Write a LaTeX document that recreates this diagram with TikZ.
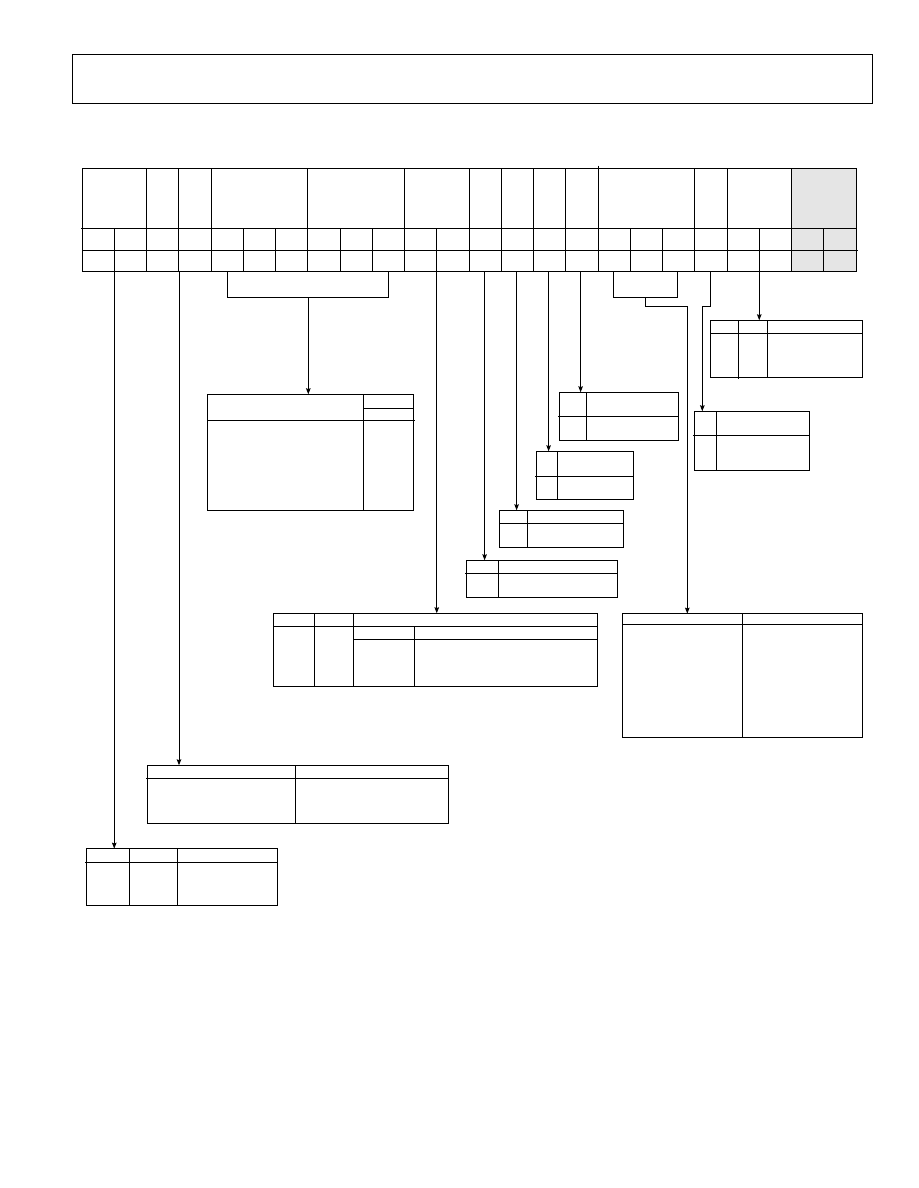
\documentclass[tikz,border=0pt]{standalone}
\usetikzlibrary{arrows.meta}
\definecolor{regbg}{RGB}{229,229,229}
\begin{document}
\begin{tikzpicture}[x=1pt,y=-1pt,line width=1pt,
  tbl/.style={draw,rectangle,inner sep=0pt,outer sep=0pt,anchor=north west},
  arr/.style={-{Stealth[length=6pt,width=4.5pt,inset=0.8pt]}}]
\useasboundingbox (0,0) rectangle (918,1188);
% title frame
\node[tbl,minimum width=800pt,minimum height=49.7pt] (frame) at (72.3,54.3) {};
% register grid
\fill[fill=regbg] (791.5,168.3) rectangle (856,271);
\draw (82,168.3) rectangle (856,271);
\draw (81,228.3) -- (856,228.3);
\draw (82,250) -- (858,250);
\foreach \i in {1,...,23} \draw ({82+\i*32.25},228.3) -- ({82+\i*32.25},271);
\foreach \i in {2,3,4,7,10,12,13,14,15,19,20,22} \draw ({82+\i*32.25},168.3) -- ({82+\i*32.25},228.3);
\draw (598,165.5) -- (598,228.3);
% tables
\node[tbl,minimum width=206pt,minimum height=115.7pt] (A) at (207.3,394.3) {};
\draw (363.3,394.3) -- (363.3,510);
\draw (207.3,420.3) -- (415,420.3);
\draw (363.3,408.3) -- (413.3,408.3);
\node[tbl,minimum width=119pt,minimum height=48pt] (B) at (559.3,392.3) {};
\draw (586.3,392.3) -- (586.3,440.3);
\draw (558,416.3) -- (678.3,416.3);
\node[tbl,minimum width=97pt,minimum height=48pt] (C) at (536.3,451.3) {};
\draw (557.3,451.3) -- (557.3,499.3);
\draw (535,476.3) -- (633.3,476.3);
\node[tbl,minimum width=124pt,minimum height=37pt] (D) at (499.3,510.3) {};
\draw (527.3,510.3) -- (527.3,547.3);
\draw (499.3,523.3) -- (623.3,523.3);
\node[tbl,minimum width=151pt,minimum height=37pt] (E) at (466.3,560.3) {};
\draw (498.3,560.3) -- (498.3,597.3);
\draw (465,573.3) -- (617.3,573.3);
\node[tbl,minimum width=152.4pt,minimum height=57pt] (F) at (710.3,320.3) {};
\draw (738.3,320.3) -- (738.3,379);
\draw (767.3,320.3) -- (767.3,377.3);
\draw (710.3,333.3) -- (862.7,333.3);
\node[tbl,minimum width=115pt,minimum height=59pt] (G) at (694.3,411.3) {};
\draw (716.3,411.3) -- (716.3,470.3);
\draw (693,435.3) -- (809.3,435.3);
\node[tbl,minimum width=324pt,minimum height=72.7pt] (H) at (273.3,613.3) {};
\draw (314.3,613.3) -- (314.3,686);
\draw (353.3,613.3) -- (353.3,686);
\draw (414.3,626.7) -- (414.3,686);
\draw (273.3,626.7) -- (597.3,626.7);
\draw (353.3,639) -- (597.3,639);
\node[tbl,minimum width=240pt,minimum height=123.6pt] (I) at (622.3,613.7) {};
\draw (742.3,613.7) -- (742.3,737.3);
\draw (622.3,624.3) -- (862.3,624.3);
\node[tbl,minimum width=301pt,minimum height=58pt] (J) at (147.3,765.3) {};
\draw (295.3,765.3) -- (295.3,823.3);
\draw (146,778.3) -- (448.3,778.3);
\node[tbl,minimum width=191pt,minimum height=56.6pt] (K) at (86.3,848.7) {};
\draw (129.3,848.7) -- (129.3,905.3);
\draw (177.3,848.7) -- (177.3,905.3);
\draw (85,862) -- (277.3,862);
% connectors
\coordinate (s1) at (114.25,271);
\coordinate (s3) at (179,271);
\coordinate (bA) at (308.3,297);
\coordinate (s11) at (436.75,271);
\coordinate (s12) at (484.6,271);
\coordinate (s13) at (516.6,271);
\coordinate (s14) at (548.6,271);
\coordinate (s15) at (580.6,271);
\coordinate (bI) at (645,297);
\coordinate (kI) at (687.3,306);
\coordinate (s20) at (710.3,271);
\coordinate (kG) at (702.3,306);
\coordinate (s21) at (759.25,271);
\draw[arr] (s1) -- (s1 |- K.north);
\draw[arr] (s3) -- (s3 |- J.north);
\draw (227.3,271) -- (227.3,297) -- (388.3,297) -- (388.3,271);
\draw[arr] (bA) -- (bA |- A.north);
\draw[arr] (s11) -- (s11 |- H.north);
\draw[arr] (s12) -- (s12 |- E.north);
\draw[arr] (s13) -- (s13 |- D.north);
\draw[arr] (s14) -- (s14 |- C.north);
\draw[arr] (s15) -- (s15 |- B.north);
\draw (613,271) -- (613,297) -- (677.3,297) -- (677.3,271);
\draw[arr] (bI) |- (kI) -- (kI |- I.north);
\draw[arr] (s20) |- (kG) -- (kG |- G.north);
\draw[arr] (s21) -- (s21 |- F.north);
\end{tikzpicture}
\end{document}
